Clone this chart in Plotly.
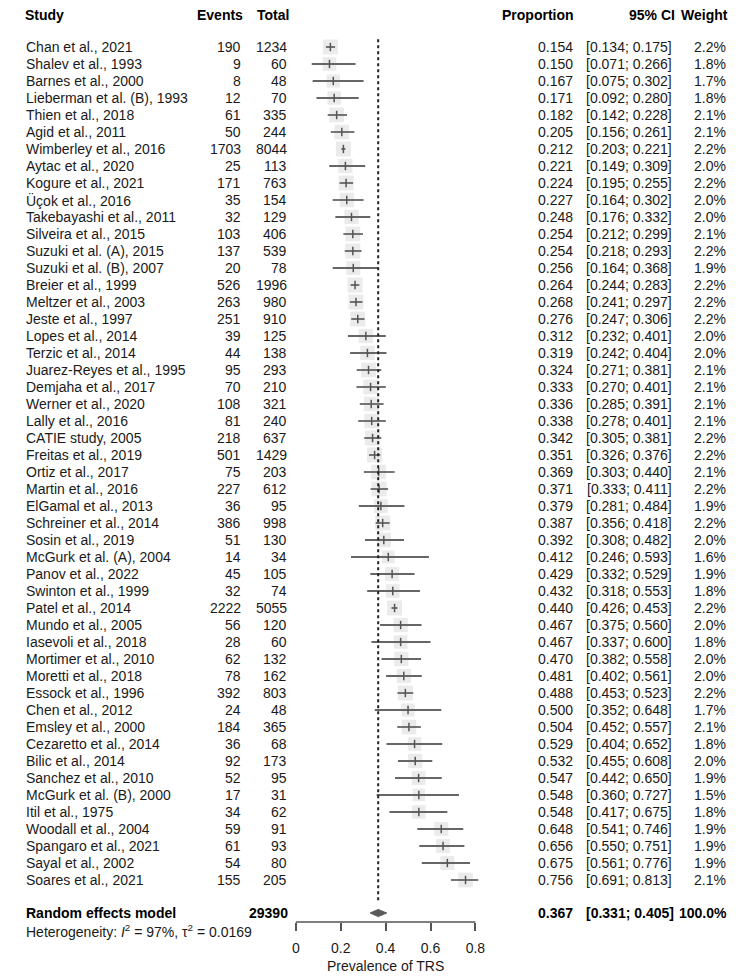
import plotly.graph_objects as go

studies = ["Chan et al., 2021", "Shalev et al., 1993", "Barnes et al., 2000", "Lieberman et al. (B), 1993",
           "Thien et al., 2018", "Agid et al., 2011", "Wimberley et al., 2016", "Aytac et al., 2020",
           "Kogure et al., 2021", "Üçok et al., 2016", "Takebayashi et al., 2011", "Silveira et al., 2015",
           "Suzuki et al. (A), 2015", "Suzuki et al. (B), 2007", "Breier et al., 1999", "Meltzer et al., 2003",
           "Jeste et al., 1997", "Lopes et al., 2014", "Terzic et al., 2014", "Juarez-Reyes et al., 1995",
           "Demjaha et al., 2017", "Werner et al., 2020", "Lally et al., 2016", "CATIE study, 2005",
           "Freitas et al., 2019", "Ortiz et al., 2017", "Martin et al., 2016", "ElGamal et al., 2013",
           "Schreiner et al., 2014", "Sosin et al., 2019", "McGurk et al. (A), 2004", "Panov et al., 2022",
           "Swinton et al., 1999", "Patel et al., 2014", "Mundo et al., 2005", "Iasevoli et al., 2018",
           "Mortimer et al., 2010", "Moretti et al., 2018", "Essock et al., 1996", "Chen et al., 2012",
           "Emsley et al., 2000", "Cezaretto et al., 2014", "Bilic et al., 2014", "Sanchez et al., 2010",
           "McGurk et al. (B), 2000", "Itil et al., 1975", "Woodall et al., 2004", "Spangaro et al., 2021",
           "Sayal et al., 2002", "Soares et al., 2021"]
events = [190, 9, 8, 12, 61, 50, 1703, 25, 171, 35, 32, 103, 137, 20, 526, 263, 251, 39, 44, 95,
          70, 108, 81, 218, 501, 75, 227, 36, 386, 51, 14, 45, 32, 2222, 56, 28, 62, 78, 392, 24,
          184, 36, 92, 52, 17, 34, 59, 61, 54, 155]
totals = [1234, 60, 48, 70, 335, 244, 8044, 113, 763, 154, 129, 406, 539, 78, 1996, 980, 910, 125, 138, 293,
          210, 321, 240, 637, 1429, 203, 612, 95, 998, 130, 34, 105, 74, 5055, 120, 60, 132, 162, 803, 48,
          365, 68, 173, 95, 31, 62, 91, 93, 80, 205]
proportion = [0.154, 0.150, 0.167, 0.171, 0.182, 0.205, 0.212, 0.221, 0.224, 0.227, 0.248, 0.254, 0.254, 0.256,
              0.264, 0.268, 0.276, 0.312, 0.319, 0.324, 0.333, 0.336, 0.338, 0.342, 0.351, 0.369, 0.371, 0.379,
              0.387, 0.392, 0.412, 0.429, 0.432, 0.440, 0.467, 0.467, 0.470, 0.481, 0.488, 0.500, 0.504, 0.529,
              0.532, 0.547, 0.548, 0.548, 0.648, 0.656, 0.675, 0.756]
ci_low = [0.134, 0.071, 0.075, 0.092, 0.142, 0.156, 0.203, 0.149, 0.195, 0.164, 0.176, 0.212, 0.218, 0.164,
          0.244, 0.241, 0.247, 0.232, 0.242, 0.271, 0.270, 0.285, 0.278, 0.305, 0.326, 0.303, 0.333, 0.281,
          0.356, 0.308, 0.246, 0.332, 0.318, 0.426, 0.375, 0.337, 0.382, 0.402, 0.453, 0.352, 0.452, 0.404,
          0.455, 0.442, 0.360, 0.417, 0.541, 0.550, 0.561, 0.691]
ci_high = [0.175, 0.266, 0.302, 0.280, 0.228, 0.261, 0.221, 0.309, 0.255, 0.302, 0.332, 0.299, 0.293, 0.368,
           0.283, 0.297, 0.306, 0.401, 0.404, 0.381, 0.401, 0.391, 0.401, 0.381, 0.376, 0.440, 0.411, 0.484,
           0.418, 0.482, 0.593, 0.529, 0.553, 0.453, 0.560, 0.600, 0.558, 0.561, 0.523, 0.648, 0.557, 0.652,
           0.608, 0.650, 0.727, 0.675, 0.746, 0.751, 0.776, 0.813]
weights = [2.2, 1.8, 1.7, 1.8, 2.1, 2.1, 2.2, 2.0, 2.2, 2.0, 2.0, 2.1, 2.2, 1.9, 2.2, 2.2, 2.2, 2.0, 2.0, 2.1,
           2.1, 2.1, 2.1, 2.2, 2.2, 2.1, 2.2, 1.9, 2.2, 2.0, 1.6, 1.9, 1.8, 2.2, 2.0, 1.8, 2.0, 2.0, 2.2, 1.7,
           2.1, 1.8, 2.0, 1.9, 1.5, 1.8, 1.9, 1.9, 1.9, 2.1]
pooled_total = 29390
pooled = 0.367
pooled_low = 0.331
pooled_high = 0.405
pooled_weight = 100.0
x_ticks = [0, 0.2, 0.4, 0.6, 0.8]
x_title = "Prevalence of TRS"

# ---- layout geometry (reference-page pixels; the page body adds an 8px margin) ----
OFF = 8
W, H = 750 - OFF, 977 - OFF
X0PX, XSCALE = 295.8 - OFF, 224.5     # figure pixel of x=0, pixels per unit
ROW0PX, ROWPX = 47.0 - OFF, 17.0      # figure pixel of first row, pixels per row
PLOT_BOTTOM = 922.0 - OFF             # figure pixel of the x axis line
n = len(studies)
rows = list(range(n))
pooled_row = (913.0 - OFF - ROW0PX) / ROWPX


def py(ref_px):  # reference pixel y -> paper y
    return 1 - (ref_px - OFF) / H


def pxx(ref_px):  # reference pixel x -> paper x
    return (ref_px - OFF) / W


FONT = "Liberation Sans, Arial, sans-serif"
FS = 14
TXT = "#1a1a1a"

fig = go.Figure()

# squares (size by weight)
sizes = [15 * (w / 2.2) ** 0.5 for w in weights]
fig.add_trace(go.Scatter(x=proportion, y=rows, mode="markers",
                         marker=dict(symbol="square", size=sizes, color="#e2e2e2", line=dict(width=0)),
                         hoverinfo="skip", cliponaxis=False))

# CI lines
cx, cy = [], []
for lo, hi, r in zip(ci_low, ci_high, rows):
    cx += [lo, hi, None]
    cy += [r, r, None]
fig.add_trace(go.Scatter(x=cx, y=cy, mode="lines", line=dict(color="#666666", width=1.8),
                         hoverinfo="skip"))

# point estimates
fig.add_trace(go.Scatter(x=proportion, y=rows, mode="markers",
                         marker=dict(symbol="line-ns", size=6, line=dict(color="#555555", width=1.5)),
                         hoverinfo="skip", cliponaxis=False))

# dotted line at pooled estimate
fig.add_trace(go.Scatter(x=[pooled, pooled], y=[-0.45, 50.2], mode="lines",
                         line=dict(color="#222222", width=2, dash="dot"), hoverinfo="skip"))

# diamond
dh = 0.21
fig.add_trace(go.Scatter(x=[pooled_low, pooled, pooled_high, pooled, pooled_low],
                         y=[pooled_row, pooled_row - dh, pooled_row, pooled_row + dh, pooled_row],
                         mode="lines", fill="toself", fillcolor="#5a5a5a",
                         line=dict(color="#5a5a5a", width=1), hoverinfo="skip"))

# axis line
fig.add_shape(type="line", xref="x", yref="paper", x0=x_ticks[0], x1=x_ticks[-1],
              y0=py(922), y1=py(922), line=dict(color="#555555", width=1.5))

ann = []


def add_text(text, xpx, ypaper=None, yrow=None, anchor="left", bold=False, size=FS, pad=1):
    if bold:
        text = "<b>" + text + "</b>"
    d = dict(text=text, xref="paper", x=pxx(xpx), xanchor=anchor, yanchor="middle",
             showarrow=False, borderpad=pad,
             font=dict(family=FONT, size=size, color="black" if bold else TXT))
    if yrow is not None:
        d.update(yref="y", y=yrow)
    else:
        d.update(yref="paper", y=ypaper)
    ann.append(d)


# headers
hy = py(15.5)
add_text("Study", 24, hy, bold=True, pad=0)
add_text("Events", 244, hy, anchor="right", bold=True, pad=0)
add_text("Total", 290, hy, anchor="right", bold=True, pad=0)
add_text("Proportion", 575, hy, anchor="right", bold=True, pad=0)
add_text("95% CI", 676, hy, anchor="right", bold=True, pad=0)
add_text("Weight", 729, hy, anchor="right", bold=True, pad=0)

for r, s, e, t, p, lo, hi, w in zip(rows, studies, events, totals, proportion, ci_low, ci_high, weights):
    add_text(s, 24, yrow=r)
    add_text(str(e), 243, yrow=r, anchor="right")
    add_text(str(t), 289, yrow=r, anchor="right")
    add_text(f"{p:.3f}", 575, yrow=r, anchor="right")
    add_text(f"[{lo:.3f}; {hi:.3f}]", 674, yrow=r, anchor="right")
    add_text(f"{w:.1f}%", 728, yrow=r, anchor="right")

# pooled row
add_text("Random effects model", 24, yrow=pooled_row, bold=True)
add_text(str(pooled_total), 290, yrow=pooled_row, anchor="right", bold=True)
add_text(f"{pooled:.3f}", 575, yrow=pooled_row, anchor="right", bold=True)
add_text(f"[{pooled_low:.3f}; {pooled_high:.3f}]", 676, yrow=pooled_row, anchor="right", bold=True)
add_text(f"{pooled_weight:.1f}%", 729, yrow=pooled_row, anchor="right", bold=True)
add_text("Heterogeneity: <i>I</i><sup>2</sup> = 97%, τ<sup>2</sup> = 0.0169", 24, py(931))

# axis title
ann.append(dict(text=x_title, xref="x", x=(x_ticks[0] + x_ticks[-1]) / 2, yref="paper", y=py(966),
                xanchor="center", yanchor="middle", showarrow=False,
                font=dict(family=FONT, size=FS, color=TXT)))

fig.update_layout(
    width=W, height=H, margin=dict(l=0, r=0, t=0, b=0),
    paper_bgcolor="white", plot_bgcolor="white", showlegend=False,
    annotations=ann,
    xaxis=dict(domain=[0, 1], range=[-X0PX / XSCALE, (W - X0PX) / XSCALE],
               tickvals=x_ticks, ticktext=[f"{v:g}" for v in x_ticks],
               ticks="outside", ticklen=8, tickwidth=1.5, tickcolor="#555555",
               showline=False, showgrid=False, zeroline=False, fixedrange=True,
               ticklabelstandoff=5,
               tickfont=dict(family=FONT, size=FS, color=TXT)),
    yaxis=dict(domain=[py(922), 1],
               range=[(PLOT_BOTTOM - ROW0PX) / ROWPX, -ROW0PX / ROWPX],
               visible=False, fixedrange=True),
)

fig.write_html("out.html")
